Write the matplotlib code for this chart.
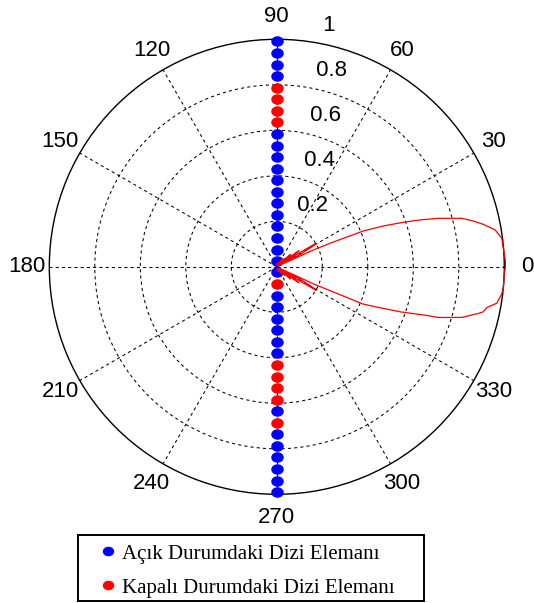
import matplotlib
matplotlib.use('Agg')
import numpy as np
import matplotlib.pyplot as plt
from matplotlib.lines import Line2D
from matplotlib.patches import Rectangle
from matplotlib.path import Path
from matplotlib.transforms import offset_copy

# Element positions along the array axis (normalised), inner -> outer
element_r = [0.025, 0.076, 0.127, 0.178, 0.229, 0.279, 0.330, 0.381, 0.432, 0.483,
             0.533, 0.584, 0.635, 0.686, 0.737, 0.787, 0.838, 0.889, 0.940, 0.991]
# 1 = open (blue), 0 = closed (red), inner -> outer
upper_state = [1, 1, 1, 1, 1, 1, 1, 1, 1, 1, 1, 1, 0, 0, 0, 0, 1, 1, 1, 1]
lower_state = [1, 0, 1, 1, 1, 1, 1, 1, 0, 0, 0, 0, 1, 0, 1, 1, 1, 1, 1, 1]

# Radiation pattern (deg, normalised amplitude)
pattern_deg = [-90, -80, -70, -60, -55, -50, -47, -44, -42, -41, -39, -37, -36, -35,
               -33, -32, -31, -30, -28, -26, -25, -23.4, -22.5, -20, -18, -17.4, -15.3,
               -13, -12.3, -11, -9.4, -7, -5.4, -2, 0,
               1.7, 4.7, 7.2, 9.6, 11.6, 13, 14.7, 16.7, 18, 19.4, 21, 22.5, 23.8,
               24.7, 26, 28, 30, 31, 32, 33, 35, 36, 37, 39, 41, 42, 44, 47, 50,
               55, 60, 70, 80, 90]
pattern_r = [0.01, 0.01, 0.02, 0.01, 0.04, 0.01, 0.05, 0.02, 0.08, 0.07, 0.01, 0.05, 0.12, 0.09,
             0.02, 0.10, 0.20, 0.19, 0.12, 0.03, 0.18, 0.41, 0.45, 0.58, 0.69, 0.745, 0.843,
             0.91, 0.929, 0.94, 0.98, 0.995, 1.0, 1.0, 1.005,
             1.005, 0.999, 0.997, 0.973, 0.927, 0.89, 0.84, 0.741, 0.67, 0.589, 0.50, 0.411, 0.26,
             0.18, 0.03, 0.12, 0.19, 0.20, 0.10, 0.02, 0.09, 0.12, 0.05, 0.01, 0.07, 0.08, 0.02, 0.05, 0.01,
             0.04, 0.01, 0.02, 0.01, 0.01]

theta_ticks = [0, 30, 60, 90, 120, 150, 180, 210, 240, 270, 300, 330]
r_ticks = [0.2, 0.4, 0.6, 0.8, 1.0]
r_labels = ['0.2', '0.4', '0.6', '0.8', '1']
legend_labels = ['Açık Durumdaki Dizi Elemanı', 'Kapalı Durumdaki Dizi Elemanı']

sans = ['Liberation Sans', 'DejaVu Sans']
serif = ['Liberation Serif', 'DejaVu Serif']

# slightly flattened dot marker (MATLAB '.')
circ = Path.unit_circle()
dot = Path(circ.vertices * np.array([1.0, 0.82]), circ.codes)

fig = plt.figure(figsize=(5.34, 6.03), dpi=100)
W, H = 534, 603
cx, cy, R = 276.8, 266.8, 227.5
ax = fig.add_axes([(cx - R) / W, (H - cy - R) / H, 2 * R / W, 2 * R / H], projection='polar')

ax.set_rlim(0, 1)
ax.set_thetagrids(theta_ticks, labels=[''] * len(theta_ticks))
ax.set_rgrids(r_ticks[:-1], labels=[''] * (len(r_ticks) - 1))
ax.grid(True, color='k', linestyle=(0, (3, 3)), linewidth=0.75)
ax.spines['polar'].set_linewidth(1.0)
ax.tick_params(length=0)

# array elements
el = np.array(element_r)
up = np.array(upper_state)
lo = np.array(lower_state)
ms = 8.0
ax.plot(np.full(up.sum(), np.pi / 2), el[up == 1], ls='none', marker=dot, ms=ms,
        color='#0000ff', clip_on=False, zorder=3)
ax.plot(np.full((up == 0).sum(), np.pi / 2), el[up == 0], ls='none', marker=dot, ms=ms,
        color='#ff0000', clip_on=False, zorder=3)
ax.plot(np.full(lo.sum(), 3 * np.pi / 2), el[lo == 1], ls='none', marker=dot, ms=ms,
        color='#0000ff', clip_on=False, zorder=3)
ax.plot(np.full((lo == 0).sum(), 3 * np.pi / 2), el[lo == 0], ls='none', marker=dot, ms=ms,
        color='#ff0000', clip_on=False, zorder=3)

# pattern
ax.plot(np.deg2rad(pattern_deg), pattern_r, color='#ff0000', lw=0.9, clip_on=False, zorder=4)

# angle labels
for t in theta_ticks:
    ax.text(np.deg2rad(t), 1.1, str(t), ha='center', va='center', fontsize=16, family=sans)

# radial labels
tr = offset_copy(ax.transData, fig=fig, x=8, y=3, units='dots')
for r, lab in zip(r_ticks, r_labels):
    ax.text(np.deg2rad(82), r + 0.01, ' ' + lab, ha='left', va='bottom', fontsize=16,
            family=sans, transform=tr)

# legend
handles = [Line2D([], [], ls='none', marker=dot, ms=7.2, color='#0000ff'),
           Line2D([], [], ls='none', marker=dot, ms=7.2, color='#ff0000')]
fig.legend(handles, legend_labels, loc='upper left', bbox_to_anchor=(102 / W, 1 - 544 / H),
           frameon=False, borderpad=0, borderaxespad=0, handlelength=0.6, handletextpad=0.35,
           labelspacing=0.7, prop={'family': serif, 'size': 15})
fig.add_artist(Rectangle((78 / W, 2 / H), 346 / W, 66 / H, transform=fig.transFigure,
                         fill=False, ec='k', lw=1.4))

fig.savefig('out.png', dpi=100)
